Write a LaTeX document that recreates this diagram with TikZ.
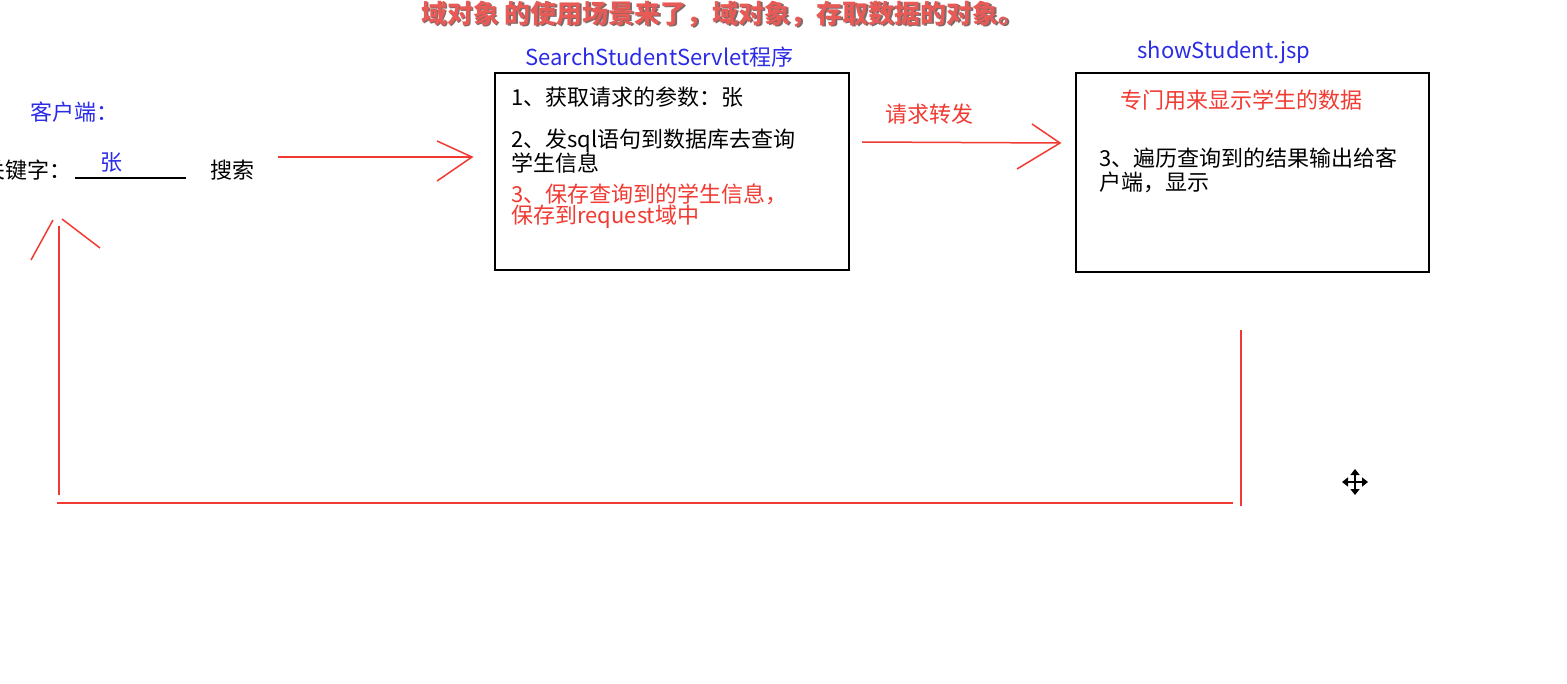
\documentclass[tikz,border=0pt]{standalone}
\usepackage{fontspec}
\setmainfont{Noto Sans CJK SC}
\newfontfamily\cjk{Noto Sans CJK SC}
\usetikzlibrary{arrows.meta}
\definecolor{myblue}{HTML}{2B2BE6}
\definecolor{myred}{HTML}{F03A32}
\definecolor{titlered}{HTML}{E85A55}
\definecolor{shadowgray}{HTML}{7A6A6A}
\tikzset{
  txt/.style={inner sep=0pt, anchor=west, font=\cjk\fontsize{11}{13}\selectfont},
  bluetxt/.style={txt, text=myblue},
  redtxt/.style={txt, text=myred},
  box/.style={draw=black, line width=0.8pt, inner sep=0pt},
  redline/.style={draw=myred, line width=0.75pt},
}
\begin{document}
\begin{tikzpicture}[x=0.5pt,y=-0.5pt]
\useasboundingbox (0,0) rectangle (1567,684);
\clip (0,0) rectangle (1567,684);
% title
\node[inner sep=0pt, text=shadowgray, font=\cjk\bfseries\fontsize{13}{15}\selectfont] (titleshadow) at (724.2,15.2) {域对象\ 的使用场景来了，域对象，存取数据的对象。};
\node[inner sep=0pt, text=titlered, font=\cjk\bfseries\fontsize{13}{15}\selectfont] (title) at (723,14) {域对象\ 的使用场景来了，域对象，存取数据的对象。};

% client
\node[bluetxt] (client) at (30,112) {客户端：};
\node[txt, anchor=east] (keyword) at (72,170) {关键字：};
\coordinate (ulA) at (75,178);
\coordinate (ulB) at (186,178);
\draw[line width=0.6pt] (ulA) -- (ulB);
\node[bluetxt] (zhang) at (100,162) {张};
\node[txt] (search) at (210,170) {搜索};

% servlet box
\node[box, minimum width=177pt, minimum height=98.5pt, anchor=north west] (servlet) at (494,72) {};
\node[bluetxt] (servletlabel) at (525,57) {SearchStudentServlet程序};
\node[txt] (s1) at (511,97) {1、获取请求的参数：张};
\node[txt] (s2) at (511,141) {2、发sql语句到数据库去查询};
\node[txt] (s2b) at (511,163) {学生信息};
\node[redtxt] (s3) at (511,194) {3、保存查询到的学生信息，};
\node[redtxt] (s3b) at (511,217) {保存到request域中};

% jsp box
\node[box, minimum width=176.5pt, minimum height=99.5pt, anchor=north west] (jsp) at (1075,72) {};
\node[bluetxt] (jsplabel) at (1137,52) {showStudent.jsp};
\node[redtxt] (j0) at (1120,100) {专门用来显示学生的数据};
\node[txt] (j1) at (1099,158) {3、遍历查询到的结果输出给客};
\node[txt] (j1b) at (1099,182) {户端，显示};

% arrow 1 client -> servlet
\coordinate (a1s) at (278,157);
\coordinate (a1e) at (472,157);
\coordinate (a1u) at (437,141);
\coordinate (a1d) at (437,181);
\draw[redline] (a1s) -- (a1e);
\draw[redline] (a1u) -- (a1e) -- (a1d);

% arrow 2 servlet -> jsp
\node[redtxt] (forward) at (885,114) {请求转发};
\coordinate (a2s) at (862,142);
\coordinate (a2e) at (1060,143);
\coordinate (a2u) at (1032,124);
\coordinate (a2d) at (1017,169);
\draw[redline] (a2s) -- (a2e);
\draw[redline] (a2u) -- (a2e) -- (a2d);

% return path jsp -> client
\coordinate (r1) at (1241,330);
\coordinate (r2) at (1241,506);
\coordinate (h1) at (1233,503);
\coordinate (h2) at (57,503);
\coordinate (v1) at (59,495);
\coordinate (v2) at (59,226);
\coordinate (tl1) at (53,220);
\coordinate (tl2) at (31,260);
\coordinate (tr1) at (62,219);
\coordinate (tr2) at (100,248);
\draw[redline] (r1) -- (r2);
\draw[redline] (h1) -- (h2);
\draw[redline] (v1) -- (v2);
\draw[redline] (tl1) -- (tl2);
\draw[redline] (tr1) -- (tr2);

% move cursor
\coordinate (cur) at (1355,482);
\draw[line width=1.1pt, {Triangle[length=3pt,width=4.5pt]}-{Triangle[length=3pt,width=4.5pt]}] (1355,469) -- (1355,495);
\draw[line width=1.1pt, {Triangle[length=3pt,width=4.5pt]}-{Triangle[length=3pt,width=4.5pt]}] (1342,482) -- (1368,482);
\end{tikzpicture}
\end{document}
